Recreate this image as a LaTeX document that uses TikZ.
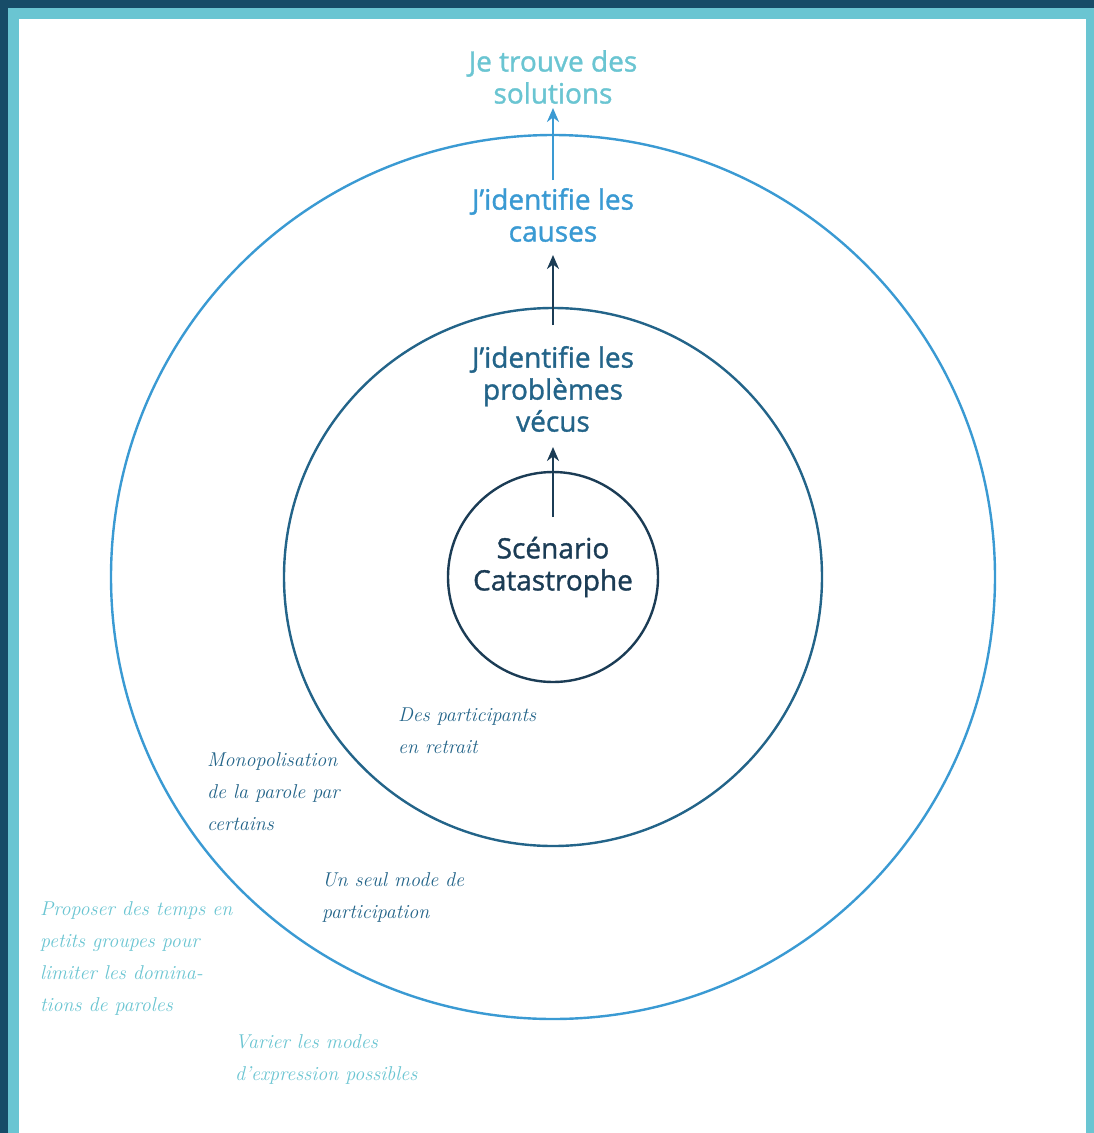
\documentclass[tikz,border=0pt]{standalone}
\usepackage{fontspec}
\setsansfont{Open Sans}[Ligatures=NoCommon, FakeBold=1.2]
\usetikzlibrary{arrows.meta}
\definecolor{bandDark}{HTML}{174C68}
\definecolor{bandTeal}{HTML}{6AC5D2}
\definecolor{cNavy}{HTML}{1B3C55}
\definecolor{cMid}{HTML}{236489}
\definecolor{cBlue}{HTML}{3A9AD3}
\definecolor{cTeal}{HTML}{6AC5D2}
\tikzset{
  ring/.style={circle, draw, line width=2.4pt, inner sep=0pt},
  stage/.style={font=\sffamily\fontsize{28}{32}\selectfont, align=center, inner sep=0pt},
  handnote/.style={font=\itshape\fontsize{20}{32}\selectfont, align=left, inner sep=0pt, anchor=west},
  up/.style={-{Stealth[length=14pt,width=12pt]}, line width=2.4pt}
}
\begin{document}
\begin{tikzpicture}[x=1pt,y=-1pt]
\useasboundingbox (0,0) rectangle (1094,1133);
% frame
\fill[bandDark] (0,0) rectangle (1094,1133);
\fill[bandTeal] (8,8) rectangle (1094,1133);
\fill[white] (19,19) rectangle (1086,1133);
% rings
\node[ring, draw=cBlue, minimum size=884pt] (outer) at (553,577) {};
\node[ring, draw=cMid, minimum size=538pt] (middle) at (553,577) {};
\node[ring, draw=cNavy, minimum size=210pt] (inner) at (553,577) {};
% stage labels
\node[stage, text=cTeal] (sol) at (553,77) {Je trouve des\\solutions};
\node[stage, text=cBlue] (cau) at (553,215) {J’identifie les\\causes};
\node[stage, text=cMid] (pro) at (553,389) {J’identifie les\\problèmes\\vécus};
\node[stage, text=cNavy] (sce) at (553,567) {Scénario\\Catastrophe};
% arrows
\coordinate (a1) at (553,517);
\coordinate (a2) at (553,325);
\coordinate (a3) at (553,180);
\draw[up, cNavy] (a1) -- (pro.south |- 0,447);
\draw[up, cNavy] (a2) -- (cau.south |- 0,255);
\draw[up, cBlue] (a3) -- (sol.south |- 0,108);
% handwritten notes
\node[handnote, text=cMid] (n1) at (398,731) {Des participants\\en retrait};
\node[handnote, text=cMid] (n2) at (207,792) {Monopolisation\\de la parole par\\certains};
\node[handnote, text=cMid] (n3) at (322,897) {Un seul mode de\\participation};
\node[handnote, text=cTeal] (n4) at (40,958) {Proposer des temps en\\petits groupes pour\\limiter les domina-\\tions de paroles};
\node[handnote, text=cTeal] (n5) at (235,1059) {Varier les modes\\d’expression possibles};
\end{tikzpicture}
\end{document}
